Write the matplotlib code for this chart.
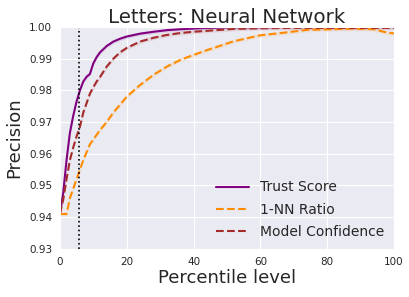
import matplotlib
matplotlib.use('Agg')
import numpy as np
import matplotlib.pyplot as plt
import seaborn as sns

percentiles = [0, 1, 2, 3, 4, 5, 6, 7, 8, 9, 10, 11, 12, 14, 16, 18, 20, 24,
               28, 32, 36, 40, 44, 48, 52, 60, 67, 74, 81, 88, 94, 98, 100]

trust_score = [0.941, 0.9476, 0.958, 0.9666, 0.972, 0.9765, 0.980, 0.9828,
               0.9843, 0.9852, 0.9885, 0.9905, 0.9920, 0.9940, 0.9954, 0.9963,
               0.9970, 0.9979, 0.9985, 0.9990, 0.9993, 0.9995, 0.9997, 0.9998,
               0.9999, 0.9999, 1.0, 1.0, 1.0, 1.0, 1.0, 1.0, 1.0]

nn_ratio = [0.941, 0.941, 0.941, 0.946, 0.949, 0.952, 0.955, 0.958, 0.9605,
            0.963, 0.9645, 0.966, 0.9675, 0.970, 0.973, 0.9755, 0.978, 0.9817,
            0.9849, 0.9875, 0.9896, 0.9912, 0.9927, 0.9941, 0.9955, 0.9974,
            0.9982, 0.9991, 0.9993, 0.9995, 0.9993, 0.9982, 0.998]

model_conf = [0.941, 0.9455, 0.952, 0.958, 0.962, 0.9655, 0.9685, 0.973,
              0.976, 0.979, 0.981, 0.9828, 0.9842, 0.9875, 0.990, 0.9920,
              0.9934, 0.9954, 0.9966, 0.9975, 0.9981, 0.9985, 0.9988, 0.9991,
              0.9994, 0.9996, 0.9997, 0.9997, 0.9997, 0.9997, 0.9997, 0.9997,
              0.9997]

cutoff = 5.7

sns.set_style('darkgrid')

fig = plt.figure(figsize=(4.1, 2.97), dpi=100)
ax = fig.add_axes([0.146, 0.162, 0.815, 0.747])

series = [
    ('Trust Score', trust_score, 'purple', '-'),
    ('1-NN Ratio', nn_ratio, 'darkorange', '--'),
    ('Model Confidence', model_conf, 'brown', '--'),
]
for label, vals, col, ls in series:
    v = np.array(vals)
    ax.fill_between(percentiles, v - 0.0006, v + 0.0006, color=col,
                    alpha=0.1, lw=0)
    ax.plot(percentiles, v, color=col, ls=ls, lw=1.5, label=label)

ax.axvline(cutoff, color='black', ls=':', lw=1.2)

ax.set_xlim(0, 100)
ax.set_ylim(0.93, 1.0)
ax.set_yticks(np.arange(0.93, 1.0001, 0.01))
ax.tick_params(labelsize=7.5, pad=2)
ax.set_title('Letters: Neural Network', fontsize=14.3, pad=3)
ax.set_xlabel('Percentile level', fontsize=13, labelpad=2)
ax.set_ylabel('Precision', fontsize=13, labelpad=4)
ax.legend(loc='lower right', fontsize=10, frameon=False,
          handlelength=2.4, labelspacing=0.6, borderaxespad=0.3)

fig.savefig('out.png', dpi=100)
